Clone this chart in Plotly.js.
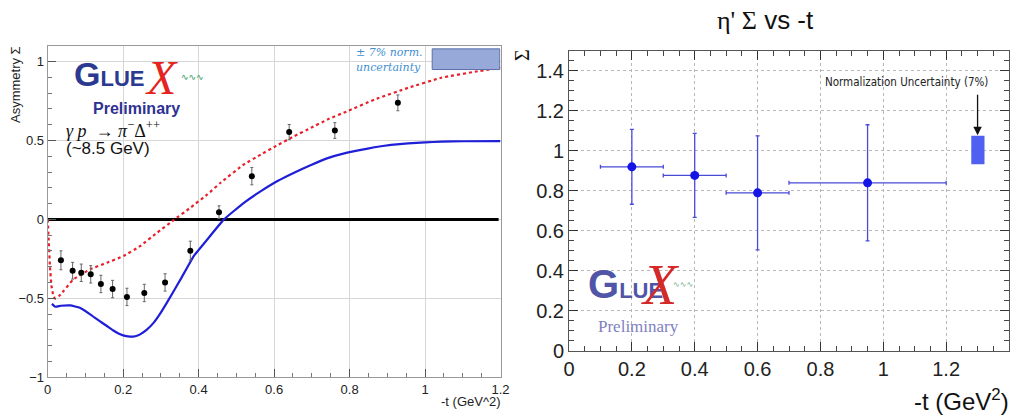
<!DOCTYPE html>
<html><head><meta charset="utf-8">
<script src="https://cdn.plot.ly/plotly-3.0.1.min.js"></script>
<style>html,body{margin:0;padding:0;background:#fff;} #chart{width:1022px;height:419px;}</style>
</head><body><div id="chart"></div>
<script>
// ---------- Left panel: gamma p -> pi- Delta++ beam asymmetry ----------
const piT     = [0.035, 0.066, 0.089, 0.114, 0.141, 0.172, 0.210, 0.256, 0.311, 0.378, 0.454, 0.541, 0.640, 0.761, 0.928];
const piSigma = [-0.259, -0.325, -0.338, -0.348, -0.409, -0.441, -0.491, -0.466, -0.399, -0.198, 0.046, 0.274, 0.553, 0.563, 0.738];
const piErr   = [0.060, 0.053, 0.055, 0.055, 0.055, 0.055, 0.055, 0.055, 0.055, 0.060, 0.040, 0.055, 0.048, 0.050, 0.050];

// red dashed model curve
const redT = [0, 0.003, 0.006, 0.010, 0.015, 0.020, 0.030, 0.042, 0.068, 0.1125, 0.157, 0.201, 0.245, 0.290, 0.334, 0.378, 0.423, 0.458, 0.520, 0.565, 0.609, 0.653, 0.698, 0.742, 0.795, 0.866, 0.955, 1.043, 1.132, 1.200];
const redS = [0, -0.15, -0.30, -0.42, -0.485, -0.502, -0.485, -0.454, -0.380, -0.316, -0.274, -0.232, -0.169, -0.084, -0.004, 0.074, 0.158, 0.232, 0.348, 0.411, 0.470, 0.527, 0.580, 0.633, 0.686, 0.759, 0.833, 0.897, 0.935, 0.962];

// blue solid model curve
const blueT = [0.011, 0.020, 0.035, 0.060, 0.085, 0.1125, 0.135, 0.157, 0.175, 0.192, 0.205, 0.219, 0.232, 0.245, 0.262, 0.281, 0.298, 0.316, 0.352, 0.387, 0.423, 0.467, 0.520, 0.565, 0.609, 0.653, 0.698, 0.742, 0.786, 0.830, 0.866, 0.910, 0.955, 1.000, 1.043, 1.100, 1.200];
const blueS = [-0.535, -0.553, -0.547, -0.545, -0.560, -0.601, -0.640, -0.675, -0.705, -0.728, -0.738, -0.743, -0.740, -0.728, -0.700, -0.654, -0.597, -0.527, -0.380, -0.232, -0.127, 0.000, 0.105, 0.179, 0.243, 0.296, 0.345, 0.388, 0.418, 0.440, 0.457, 0.472, 0.482, 0.488, 0.492, 0.495, 0.496];

// horizontal zero reference line
const zeroT = [0, 1.195];
const zeroS = [0, 0];

// normalization band (left)
const leftNormT = [1.019, 1.198];
const leftNormS = [0.949, 1.080];

// ---------- Right panel: eta' Sigma vs -t ----------
const etaT      = [0.20, 0.40, 0.60, 0.95];
const etaSigma  = [0.920, 0.877, 0.790, 0.840];
const etaTErr   = [0.10, 0.10, 0.10, 0.25];
const etaErr    = [0.187, 0.210, 0.285, 0.290];

const rightNormT = [1.280, 1.322];
const rightNormS = [0.933, 1.075];

const W = 1022, H = 419;
const px = x => x / W;
const py = y => 1 - y / H;

const traces = [
  {x: zeroT, y: zeroS, mode: 'lines', line: {color: '#000', width: 3}, xaxis: 'x', yaxis: 'y', hoverinfo: 'skip'},
  {x: redT, y: redS, mode: 'lines', line: {color: '#e8202a', width: 2.2, dash: '3px,3px', shape: 'spline', smoothing: 0.3}, xaxis: 'x', yaxis: 'y'},
  {x: blueT, y: blueS, mode: 'lines', line: {color: '#1f1fd8', width: 2.2, shape: 'spline', smoothing: 0.3}, xaxis: 'x', yaxis: 'y'},
  {x: piT, y: piSigma, mode: 'markers', marker: {color: '#000', size: 6},
   error_y: {type: 'data', array: piErr, color: '#666', thickness: 1, width: 1.5}, xaxis: 'x', yaxis: 'y'},
  {x: etaT, y: etaSigma, mode: 'markers', marker: {color: '#1414e6', size: 9},
   error_y: {type: 'data', array: etaErr, color: '#4a4ad8', thickness: 1.3, width: 2},
   error_x: {type: 'data', array: etaTErr, color: '#4a4ad8', thickness: 1.3, width: 2},
   xaxis: 'x2', yaxis: 'y2'}
];

const tickFontL = {family: 'Liberation Sans, Arial, sans-serif', size: 13, color: '#222'};
const tickFontR = {family: 'Liberation Sans, Arial, sans-serif', size: 20, color: '#222'};

const layout = {
  width: W, height: H,
  margin: {l: 0, r: 0, t: 0, b: 0},
  paper_bgcolor: '#fff', plot_bgcolor: '#fff',
  showlegend: false,
  xaxis: {domain: [px(47.7), px(500.5)], range: [0, 1.2], anchor: 'y', tick0: 0, dtick: 0.2,
    ticks: 'inside', ticklen: 8, tickcolor: '#555', showline: true, linecolor: '#999', mirror: true,
    showgrid: true, gridcolor: '#d6d6d6', gridwidth: 1, zeroline: false, tickfont: tickFontL,
    minor: {dtick: 0.05, ticks: 'inside', ticklen: 4, tickcolor: '#777', showgrid: false}},
  yaxis: {domain: [py(377.3), py(45.7)], range: [-1, 1.1], anchor: 'x', tick0: 0, dtick: 0.5,
    ticks: 'inside', ticklen: 8, tickcolor: '#555', showline: true, linecolor: '#999', mirror: true,
    showgrid: true, gridcolor: '#d6d6d6', gridwidth: 1, zeroline: false, tickfont: tickFontL,
    minor: {dtick: 0.1, ticks: 'inside', ticklen: 4, tickcolor: '#777', showgrid: false}},
  xaxis2: {domain: [px(569), px(1009)], range: [0, 1.4], anchor: 'y2', tick0: 0, dtick: 0.2,
    ticks: 'inside', ticklen: 9, tickcolor: '#333', showline: true, linecolor: '#555', mirror: 'allticks',
    showgrid: true, gridcolor: '#b8b8b8', griddash: 'dot', gridwidth: 1, zeroline: false, tickfont: tickFontR,
    minor: {dtick: 0.05, ticks: 'inside', ticklen: 5, tickcolor: '#444', showgrid: false}},
  yaxis2: {domain: [py(351), py(50.7)], range: [0, 1.5], anchor: 'x2', tick0: 0, dtick: 0.2,
    ticks: 'inside', ticklen: 9, tickcolor: '#333', showline: true, linecolor: '#555', mirror: 'allticks',
    showgrid: true, gridcolor: '#b8b8b8', griddash: 'dot', gridwidth: 1, zeroline: false, tickfont: tickFontR,
    minor: {dtick: 0.05, ticks: 'inside', ticklen: 5, tickcolor: '#444', showgrid: false}},
  shapes: [
    {type: 'rect', xref: 'x', yref: 'y', x0: leftNormT[0], x1: leftNormT[1], y0: leftNormS[0], y1: leftNormS[1],
     fillcolor: '#97a9d8', line: {color: '#5b6fa8', width: 1}},
    {type: 'rect', xref: 'x2', yref: 'y2', x0: rightNormT[0], x1: rightNormT[1], y0: rightNormS[0], y1: rightNormS[1],
     fillcolor: '#5060f0', line: {width: 0}}
  ],
  annotations: [
    // left axis titles
    {xref: 'paper', yref: 'paper', x: px(15), y: py(85), text: 'Asymmetry Σ', textangle: -90, showarrow: false,
     font: {family: 'Liberation Sans, Arial', size: 13, color: '#222'}, xanchor: 'center', yanchor: 'middle'},
    {xref: 'paper', yref: 'paper', x: px(503), y: py(401), text: '-t (GeV^2)', showarrow: false,
     font: {family: 'Liberation Sans, Arial', size: 13, color: '#222'}, xanchor: 'right', yanchor: 'middle'},
    // left logo
    {xref: 'paper', yref: 'paper', x: px(72), y: py(74), showarrow: false, xanchor: 'left', yanchor: 'middle',
     text: '<b><span style="font-size:34px">G</span>LUE</b>', font: {family: 'Liberation Sans, Arial', size: 22, color: '#2b3990'}},
    {xref: 'paper', yref: 'paper', x: px(161), y: py(77), showarrow: false, xanchor: 'center', yanchor: 'middle',
     text: '<i>X</i>', font: {family: 'Liberation Serif, serif', size: 48, color: '#e52421'}},
    {xref: 'paper', yref: 'paper', x: px(192), y: py(77), showarrow: false, xanchor: 'center', yanchor: 'middle',
     text: '∿∿∿', font: {family: 'DejaVu Sans', size: 9, color: '#2a9a5a'}},
    {xref: 'paper', yref: 'paper', x: px(136), y: py(109), showarrow: false, xanchor: 'center', yanchor: 'middle',
     text: '<b>Preliminary</b>', font: {family: 'Liberation Sans, Arial', size: 16, color: '#2e3192'}},
    {xref: 'paper', yref: 'paper', x: px(64), y: py(129), showarrow: false, xanchor: 'left', yanchor: 'middle',
     text: '<i>γ p</i>  → <i>π</i><sup>−</sup>Δ<sup>++</sup>', font: {family: 'Liberation Serif, serif', size: 18, color: '#111'}},
    {xref: 'paper', yref: 'paper', x: px(64), y: py(148), showarrow: false, xanchor: 'left', yanchor: 'middle',
     text: '(~8.5 GeV)', font: {family: 'Liberation Sans, Arial', size: 17, color: '#111'}},
    // left normalization text
    {xref: 'paper', yref: 'paper', x: px(354), y: py(53), showarrow: false, xanchor: 'left', yanchor: 'middle',
     text: '<i>± 7% norm.</i>', font: {family: 'DejaVu Serif, serif', size: 11, color: '#3f8fcf'}},
    {xref: 'paper', yref: 'paper', x: px(354), y: py(67), showarrow: false, xanchor: 'left', yanchor: 'middle',
     text: '<i>uncertainty</i>', font: {family: 'DejaVu Serif, serif', size: 11, color: '#3f8fcf'}},
    // right titles
    {xref: 'paper', yref: 'paper', x: px(765), y: py(20), showarrow: false, xanchor: 'center', yanchor: 'middle',
     text: '<span style="font-family:Liberation Serif">η\' Σ</span> vs -t', font: {family: 'Liberation Sans, Arial', size: 26, color: '#111'}},
    {xref: 'paper', yref: 'paper', x: px(522), y: py(55), showarrow: false, textangle: -90, xanchor: 'center', yanchor: 'middle',
     text: 'Σ', font: {family: 'Liberation Serif, serif', size: 20, color: '#111'}},
    {xref: 'paper', yref: 'paper', x: px(1011), y: py(400), showarrow: false, xanchor: 'right', yanchor: 'middle',
     text: '-t (GeV<sup>2</sup>)', font: {family: 'Liberation Sans, Arial', size: 24, color: '#111'}},
    // right logo
    {xref: 'paper', yref: 'paper', x: px(586), y: py(284), showarrow: false, xanchor: 'left', yanchor: 'middle',
     text: '<b><span style="font-size:40px">G</span>LUE</b>', font: {family: 'Liberation Sans, Arial', size: 22, color: '#5055a8'}},
    {xref: 'paper', yref: 'paper', x: px(660), y: py(285), showarrow: false, xanchor: 'center', yanchor: 'middle',
     text: '<i>X</i>', font: {family: 'Liberation Serif, serif', size: 56, color: '#d42a2a'}},
    {xref: 'paper', yref: 'paper', x: px(683), y: py(284), showarrow: false, xanchor: 'center', yanchor: 'middle',
     text: '∿∿∿', font: {family: 'DejaVu Sans', size: 8, color: '#6aa88a'}},
    {xref: 'paper', yref: 'paper', x: px(638), y: py(326), showarrow: false, xanchor: 'center', yanchor: 'middle',
     text: 'Preliminary', font: {family: 'Liberation Serif, serif', size: 17, color: '#7f7fc0'}},
    // right normalization label + arrow
    {xref: 'x2', yref: 'y2', x: 1.075, y: 1.342, showarrow: false, xanchor: 'center', yanchor: 'middle',
     text: 'Normalization Uncertainty (7%)', font: {family: 'DejaVu Sans Condensed, Liberation Sans Narrow, Arial', size: 11.5, color: '#222'}},
    {xref: 'x2', yref: 'y2', axref: 'x2', ayref: 'y2', x: 1.30, y: 1.078, ax: 1.30, ay: 1.288, text: '',
     showarrow: true, arrowhead: 2, arrowsize: 1.3, arrowwidth: 1.3, arrowcolor: '#111'}
  ]
};

Plotly.newPlot('chart', traces, layout, {staticPlot: true, displayModeBar: false});
</script>
</body></html>
